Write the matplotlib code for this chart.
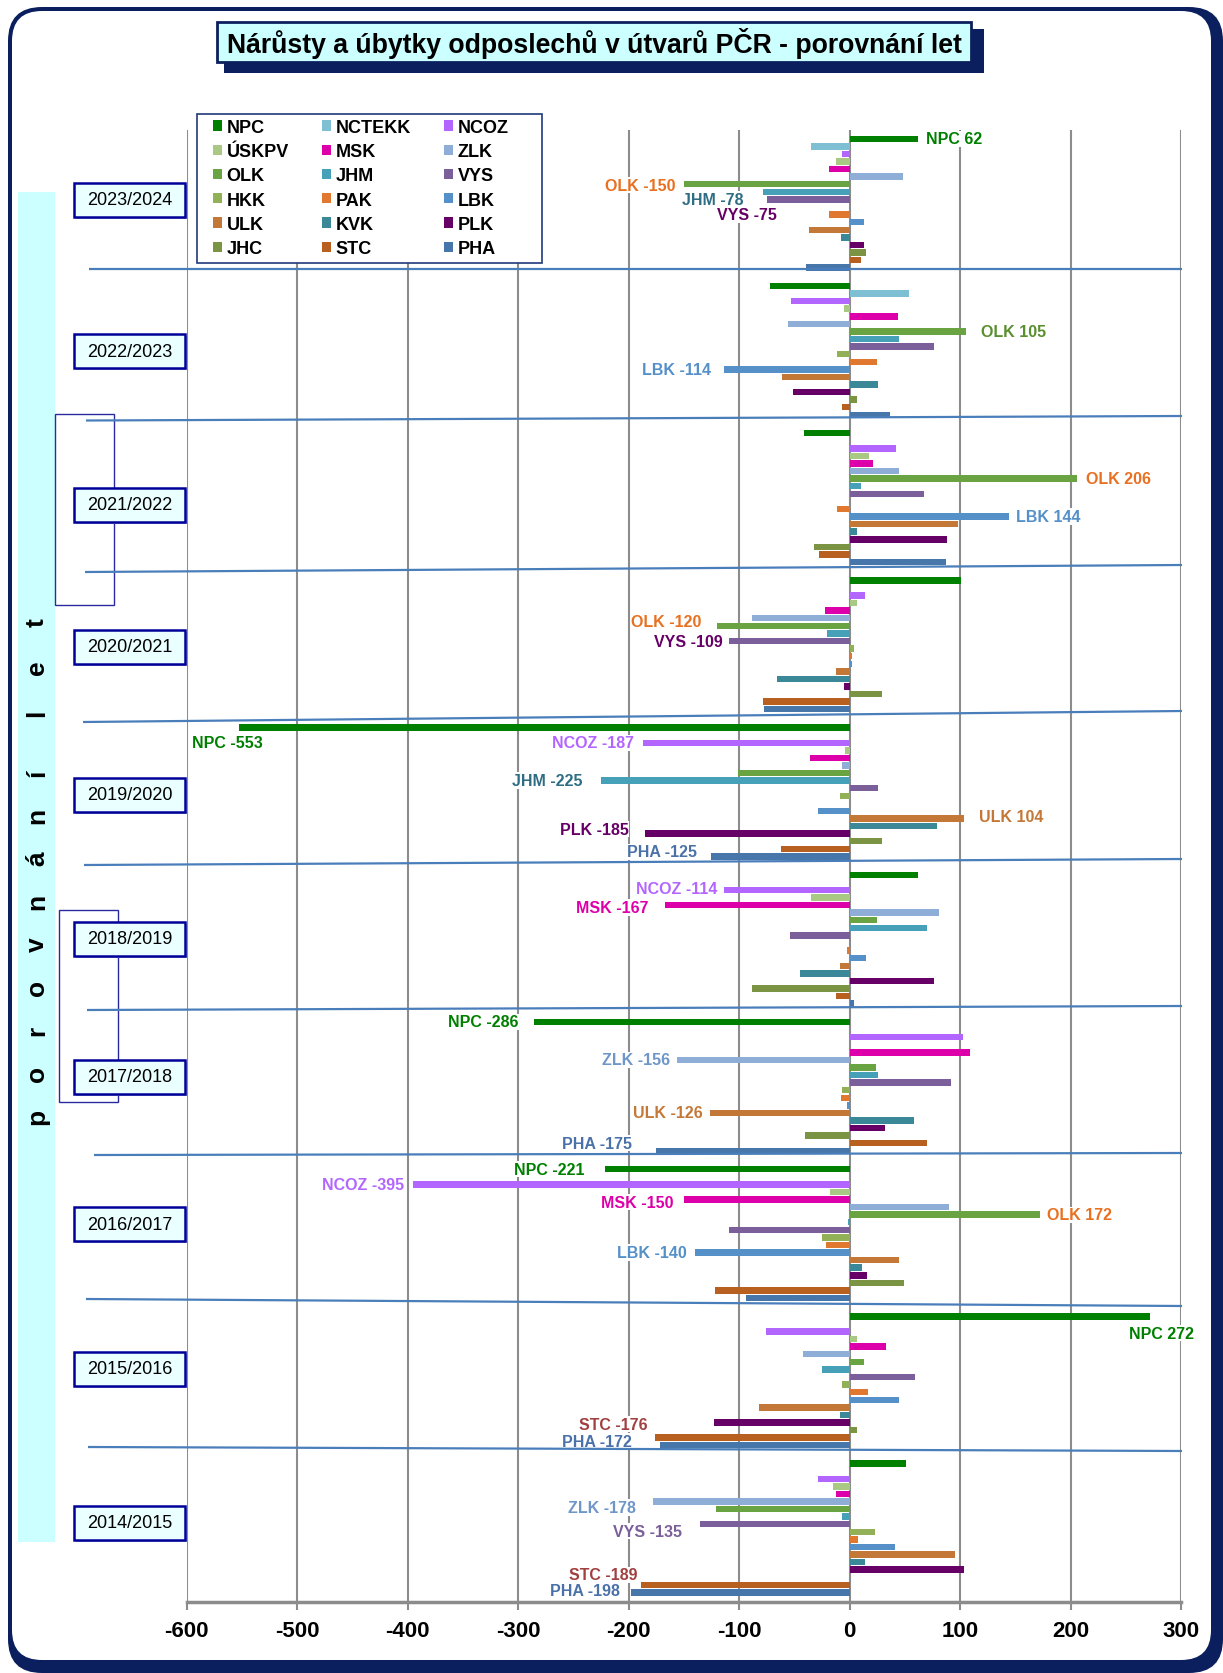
import matplotlib
matplotlib.use('Agg')
import matplotlib.pyplot as plt
from matplotlib.patches import FancyBboxPatch, Rectangle, Patch
import numpy as np

plt.rcParams['font.family'] = ['Liberation Sans', 'DejaVu Sans']
plt.rcParams['axes.unicode_minus'] = False

# ---------------- data ----------------
categories = ['2023/2024', '2022/2023', '2021/2022', '2020/2021', '2019/2020',
              '2018/2019', '2017/2018', '2016/2017', '2015/2016', '2014/2015']

series_names = ['NPC', 'NCTEKK', 'NCOZ', 'ÚSKPV', 'MSK', 'ZLK', 'OLK', 'JHM', 'VYS',
                'HKK', 'PAK', 'LBK', 'ULK', 'KVK', 'PLK', 'JHC', 'STC', 'PHA']

NPC    = [62, -72, -41, 101, -553, 62, -286, -221, 272, 51]
NCTEKK = [-35, 54, 0, 0, 0, 0, 0, 0, 0, 0]
NCOZ   = [-7, -53, 42, 14, -187, -114, 103, -395, -76, -29]
USKPV  = [-12, -5, 18, 7, -4, -35, 0, -18, 7, -15]
MSK    = [-19, 44, 21, -22, -36, -167, 109, -150, 33, -12]
ZLK    = [48, -56, 45, -88, -7, 81, -156, 90, -42, -178]
OLK    = [-150, 105, 206, -120, -101, 25, 24, 172, 13, -121]
JHM    = [-78, 45, 10, -20, -225, 70, 26, -1, -25, -7]
VYS    = [-75, 76, 67, -109, 26, -54, 92, -109, 59, -135]
HKK    = [0, -11, 0, 4, -9, 0, -7, -25, -7, 23]
PAK    = [-19, 25, -11, 2, 0, -2, -8, -21, 17, 8]
LBK    = [13, -114, 144, 2, -29, 15, -2, -140, 45, 41]
ULK    = [-37, -61, 98, -12, 104, -9, -126, 45, -82, 95]
KVK    = [-8, 26, 7, -66, 79, -45, 58, 11, -9, 14]
PLK    = [13, -51, 88, -5, -185, 76, 32, 16, -123, 104]
JHC    = [15, 7, -32, 29, 29, -88, -40, 49, 7, 0]
STC    = [10, -7, -28, -78, -62, -12, 70, -122, -176, -189]
PHA    = [-39, 37, 87, -77, -125, 4, -175, -94, -172, -198]

series_values = [NPC, NCTEKK, NCOZ, USKPV, MSK, ZLK, OLK, JHM, VYS,
                 HKK, PAK, LBK, ULK, KVK, PLK, JHC, STC, PHA]

series_colors = ['#008000', '#7fbfd4', '#b266ff', '#a9c884', '#dd00aa', '#8eaed8',
                 '#6aa442', '#45a0b8', '#7a5f9a', '#92b055', '#e07830', '#5590c8',
                 '#c47838', '#3a8898', '#660066', '#7a9444', '#b86020', '#4777aa']

# labelled bars: (category index, series name)
label_cat    = [0, 0, 0, 0, 1, 1, 2, 2, 3, 3, 4, 4, 4, 4, 4, 4, 5, 5,
                6, 6, 6, 6, 7, 7, 7, 7, 7, 8, 8, 8, 9, 9, 9, 9]
label_series = ['NPC', 'OLK', 'JHM', 'VYS', 'OLK', 'LBK', 'OLK', 'LBK', 'OLK', 'VYS',
                'NPC', 'NCOZ', 'JHM', 'ULK', 'PLK', 'PHA', 'NCOZ', 'MSK',
                'NPC', 'ZLK', 'ULK', 'PHA', 'NPC', 'NCOZ', 'MSK', 'OLK', 'LBK',
                'NPC', 'STC', 'PHA', 'ZLK', 'VYS', 'STC', 'PHA']
# layout of labels: x offset from bar end (data units), y offset (bar slots), alignment, colour
label_dx = [7, -8, -18, 9, 14, -11, 8, 7, -14, -6,
            -10, -8, -17, 13, -15, -13, -6, -15,
            -14, -6, -7, -22, -19, -8, -9, 7, -7,
            10, -7, -25, -15, -17, -3, -10]
label_dy = [0, 0.1, 1, 2, 0, 0, 0, 0, -0.6, 0,
            2.0, 0, 0, -0.3, -0.6, -0.6, -0.2, 0.3,
            0, 0, 0, -1, 0, 0, 0.35, 0, 0,
            2.2, -1.8, -0.5, 0.8, 0.9, -1.3, -0.3]
label_ha = ['left', 'right', 'right', 'right', 'left', 'right', 'left', 'left', 'right', 'right',
            'center', 'right', 'right', 'left', 'right', 'right', 'right', 'right',
            'right', 'right', 'right', 'right', 'right', 'right', 'right', 'left', 'right',
            'center', 'right', 'right', 'right', 'right', 'right', 'right']
label_col = ['#008000', '#e87020', '#2e6e84', '#660066', '#5a8f30', '#5590c8', '#e87020', '#5590c8',
             '#e87020', '#660066',
             '#008000', '#b266ff', '#2e6e84', '#c47838', '#660066', '#4a72a8', '#b266ff', '#dd00aa',
             '#008000', '#6f96c8', '#c47838', '#4a72a8', '#008000', '#b266ff', '#dd00aa', '#e87020',
             '#5590c8',
             '#008000', '#a04040', '#4a72a8', '#6f96c8', '#7a5f9a', '#a04040', '#4a72a8']

# ---------------- figure ----------------
W, H = 1223, 1674
navy = '#0b1f5e'
fig = plt.figure(figsize=(W / 100, H / 100), dpi=100)

bg = fig.add_axes([0, 0, 1, 1], zorder=0)
bg.set_xlim(0, W); bg.set_ylim(H, 0); bg.axis('off')
bg.add_patch(FancyBboxPatch((8, 8), W - 8, H - 8,
                            boxstyle="round,pad=0,rounding_size=34", fc=navy, ec='none'))
bg.add_patch(FancyBboxPatch((12, 12), 1199, 1649,
                            boxstyle="round,pad=0,rounding_size=30", fc='white', ec='none'))
bg.add_patch(Rectangle((18, 193), 37, 1350, fc='#ccffff', ec='none'))

# main axes
ax = fig.add_axes([186.7 / W, 1 - 1602.6 / H, (1181 - 186.7) / W, (1602.6 - 130.6) / H], zorder=1)
ax.patch.set_alpha(0)
P = 19.42
nser = len(series_names)
cat_idx = np.arange(len(categories))
for j, (vals, col) in enumerate(zip(series_values, series_colors)):
    ax.barh(cat_idx * P + j, vals, height=0.85, color=col, zorder=3)

margin = (P - (nser - 1)) / 2
ax.set_ylim((len(categories) - 1) * P + (nser - 1) + margin, -margin)
ax.set_xlim(-600, 300)
ax.set_xticks(np.arange(-600, 301, 100))
ax.set_yticks([])
ax.grid(axis='x', color='#8c8c8c', lw=1.5, zorder=0)
ax.set_axisbelow(True)
for s in ['left', 'right', 'top']:
    ax.spines[s].set_visible(False)
ax.spines['bottom'].set_color('#8c8c8c')
ax.spines['bottom'].set_linewidth(2.5)
ax.tick_params(axis='x', length=6, width=1.5, color='#8c8c8c', pad=7, labelsize=16)
for t in ax.get_xticklabels():
    t.set_fontweight('bold')

for c, sname, dx, dy, ha, col in zip(label_cat, label_series, label_dx, label_dy, label_ha, label_col):
    j = series_names.index(sname)
    v = series_values[j][c]
    ax.text(v + dx, c * P + j + dy, f"{sname} {v}", ha=ha, va='center', color=col,
            fontsize=11.5, fontweight='bold', zorder=6,
            bbox=dict(facecolor='white', edgecolor='none', pad=0.5))

# legend frame + legend (row-wise order as in the original)
ax.add_patch(Rectangle((197 / W, 1 - 264 / H), 345 / W, 149 / H, transform=fig.transFigure,
                       fc='white', ec='#1f3a7a', lw=1.2, zorder=9, clip_on=False))
handles = [Patch(facecolor=series_colors[r * 3 + c], edgecolor='none')
           for c in range(3) for r in range(6)]
labels = [series_names[r * 3 + c] for c in range(3) for r in range(6)]
leg = ax.legend(handles, labels, ncol=3, loc='upper left',
                bbox_to_anchor=(213 / W, 1 - 120 / H), bbox_transform=fig.transFigure,
                frameon=False, prop={'weight': 'bold', 'size': 13},
                handlelength=0.5, handleheight=0.5, handletextpad=0.25,
                columnspacing=1.85, labelspacing=0.4, borderpad=0, borderaxespad=0)
leg.set_zorder(10)

# overlay decorations
ov = fig.add_axes([0, 0, 1, 1], zorder=2)
ov.set_xlim(0, W); ov.set_ylim(H, 0); ov.axis('off'); ov.patch.set_alpha(0)

# title
ov.add_patch(Rectangle((224, 30), 760, 44, fc=navy, ec='none'))
ov.add_patch(Rectangle((217, 23), 754, 40, fc='#ccffff', ec=navy, lw=2))
ov.text(594, 43.5, 'Nárůsty a úbytky odposlechů v útvarů PČR - porovnání let',
        ha='center', va='center', fontsize=19.2, fontweight='bold', color='black')

# group separator lines
sep_lines = [((89, 270), (1182, 270)), ((86, 421.5), (1182, 417)), ((85, 573), (1182, 566)),
             ((83, 723), (1182, 712)), ((84, 866), (1182, 860)), ((87, 1011), (1182, 1007)),
             ((94, 1156), (1182, 1154)), ((86, 1300), (1182, 1307)), ((88, 1448), (1182, 1452))]
for (x0, y0), (x1, y1) in sep_lines:
    ov.plot([x0, x1], [y0, y1], color='#4a7ebb', lw=1.6, solid_capstyle='butt')

# brackets
ov.add_patch(Rectangle((55, 415), 59, 191, fc='none', ec='#2a2aa0', lw=1))
ov.add_patch(Rectangle((59, 911), 59, 192, fc='none', ec='#2a2aa0', lw=1))

# category boxes
box_y = [200.6, 352, 505.8, 647.7, 796, 940, 1077.7, 1225, 1370, 1523.7]
for cat, yc in zip(categories, box_y):
    ov.add_patch(Rectangle((76, yc - 15), 111, 34, fc='#9fb4d8', ec='none'))
    ov.add_patch(Rectangle((74, yc - 17), 111, 34, fc='#eaffff', ec='#000099', lw=1.8))
    ov.text(129.5, yc, cat, ha='center', va='center', fontsize=13, color='black')

# vertical caption
letters1 = list('porovnání')
letters2 = list('let')
y = 1117
for ch in letters1:
    ov.text(37, y, ch, rotation=90, ha='center', va='center', fontsize=19, fontweight='bold')
    y -= 43
y -= 17
for ch in letters2:
    ov.text(37, y, ch, rotation=90, ha='center', va='center', fontsize=19, fontweight='bold')
    y -= 45

fig.savefig('out.png', dpi=100)
